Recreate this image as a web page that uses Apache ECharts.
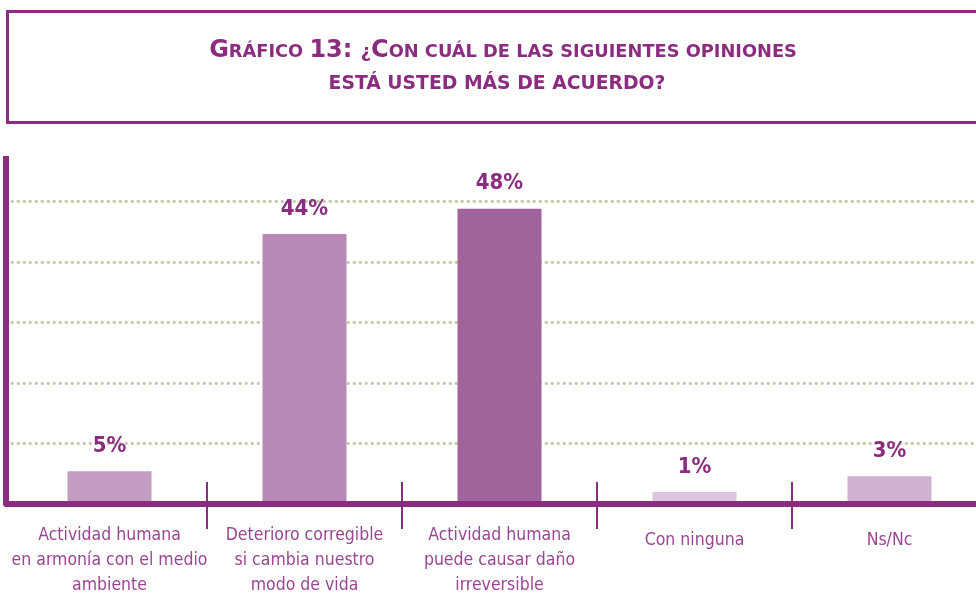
<!DOCTYPE html>
<html><head><meta charset="utf-8">
<script src="https://cdn.jsdelivr.net/npm/echarts@6/dist/echarts.min.js"></script>
<style>html,body{margin:0;padding:0;background:#fff}#c{width:976px;height:600px}</style>
</head><body><div id="c"></div>
<script>
// ---- data ----
const titleLines = ['Gráfico 13: ¿Con cuál de las siguientes opiniones', 'está usted más de acuerdo?'];
const categories = [
  'Actividad humana\nen armonía con el medio\nambiente',
  'Deterioro corregible\nsi cambia nuestro\nmodo de vida',
  'Actividad humana\npuede causar daño\nirreversible',
  'Con ninguna',
  'Ns/Nc'
];
const values = [5.4, 44.6, 48.8, 2.0, 4.6];
const valueLabels = ['5%', '44%', '48%', '1%', '3%'];
const yMin = 0, yMax = 57.5, yStep = 10;

// ---- style ----
const PURPLE = '#8B2C80';
const LABEL_PURPLE = '#9A4593';
const GRID_DOT = '#C3C8A6';
const barColors = ['#C29DC1', '#B78AB5', '#A0649D', '#DCC6DD', '#CFB2CF'];
const NARROW = '"Liberation Sans Narrow", "DejaVu Sans Condensed", "Roboto", sans-serif';
const TITLE_FONT = '"DejaVu Sans", sans-serif';

function smallCaps(s) {
  let out = '', cur = null, buf = '';
  for (const ch of s) {
    let cls;
    if (ch === ' ') cls = cur || 's';
    else if (ch === '?' || ch === '¿') cls = 's';
    else cls = (ch !== ch.toUpperCase()) ? 's' : 'b';
    if (cls !== cur && buf) { out += '{' + cur + '|' + buf + '}'; buf = ''; }
    cur = cls;
    buf += (cls === 's') ? ch.toUpperCase() : ch;
  }
  if (buf) out += '{' + cur + '|' + buf + '}';
  return out;
}
function titleRich(smallSize) {
  return {
    b: { fontFamily: TITLE_FONT, fontSize: 24, fontWeight: 'bold', color: PURPLE, lineHeight: 26, verticalAlign: 'bottom' },
    s: { fontFamily: TITLE_FONT, fontSize: smallSize, fontWeight: 'bold', color: PURPLE, lineHeight: 26, verticalAlign: 'bottom', padding: [0, 0, 1.5, 0] }
  };
}

const chart = echarts.init(document.getElementById('c'), null, { renderer: 'canvas' });
const gridTop = 156, gridBottom = 96;
chart.setOption({
  animation: false,
  backgroundColor: '#fff',
  title: [
    { text: smallCaps(titleLines[0]), left: 503, top: 37, textAlign: 'center', padding: 0, textStyle: { rich: titleRich(17.8) } },
    { text: smallCaps(titleLines[1]), left: 497, top: 69, textAlign: 'center', padding: 0, textStyle: { rich: titleRich(18.8) } }
  ],
  graphic: [{
    type: 'rect', shape: { x: 7.5, y: 11.5, width: 990, height: 111 },
    style: { fill: null, stroke: PURPLE, lineWidth: 3 }, silent: true
  }],
  grid: [
    { left: 12, width: 975, top: gridTop, bottom: gridBottom, outerBoundsMode: 'none', containLabel: false },
    { left: 6, right: 0, top: gridTop, bottom: gridBottom, outerBoundsMode: 'none', containLabel: false }
  ],
  xAxis: [
    {
      gridIndex: 0, type: 'category', data: categories.map(c => c.indexOf('\n') < 0 ? { value: c, textStyle: { lineHeight: 36 } } : c),
      position: 'bottom', boundaryGap: true,
      axisLine: { show: false },
      axisTick: { show: true, inside: false, length: 25, interval: (i) => i > 0, lineStyle: { color: PURPLE, width: 2 } },
      axisLabel: { interval: 0, margin: 18.5, color: LABEL_PURPLE, fontFamily: NARROW, fontSize: 17.5, lineHeight: 25, align: 'center', hideOverlap: false },
      splitLine: { show: false }
    },
    {
      gridIndex: 0, type: 'category', data: categories, position: 'bottom', boundaryGap: true,
      axisLine: { show: false },
      axisTick: { show: true, inside: true, length: 22, interval: (i) => i > 0, lineStyle: { color: PURPLE, width: 2 } },
      axisLabel: { show: false }, splitLine: { show: false }
    },
    {
      gridIndex: 1, type: 'value', min: 0, max: 1, z: 5,
      axisLine: { show: true, onZero: false, lineStyle: { color: PURPLE, width: 6 } },
      axisTick: { show: false }, axisLabel: { show: false }, splitLine: { show: false }
    }
  ],
  yAxis: [
    { gridIndex: 0, type: 'value', min: yMin, max: yMax, interval: yStep, show: false, splitLine: { show: false } },
    {
      gridIndex: 1, type: 'value', min: yMin, max: yMax, interval: yStep,
      axisLine: { show: true, lineStyle: { color: PURPLE, width: 6, cap: 'butt' } },
      axisTick: { show: false }, axisLabel: { show: false },
      splitLine: { show: true, showMinLine: false, showMaxLine: false,
        lineStyle: { color: GRID_DOT, width: 2.8, type: [0.5, 5.5], cap: 'round' } }
    }
  ],
  series: [{
    type: 'bar', xAxisIndex: 0, yAxisIndex: 0, data: values, barWidth: 84,
    itemStyle: { color: (p) => barColors[p.dataIndex] },
    label: {
      show: true, position: 'top', distance: 14,
      formatter: (p) => valueLabels[p.dataIndex],
      color: PURPLE, fontFamily: NARROW, fontWeight: 'bold', fontSize: 22
    }
  }]
});
</script></body></html>
